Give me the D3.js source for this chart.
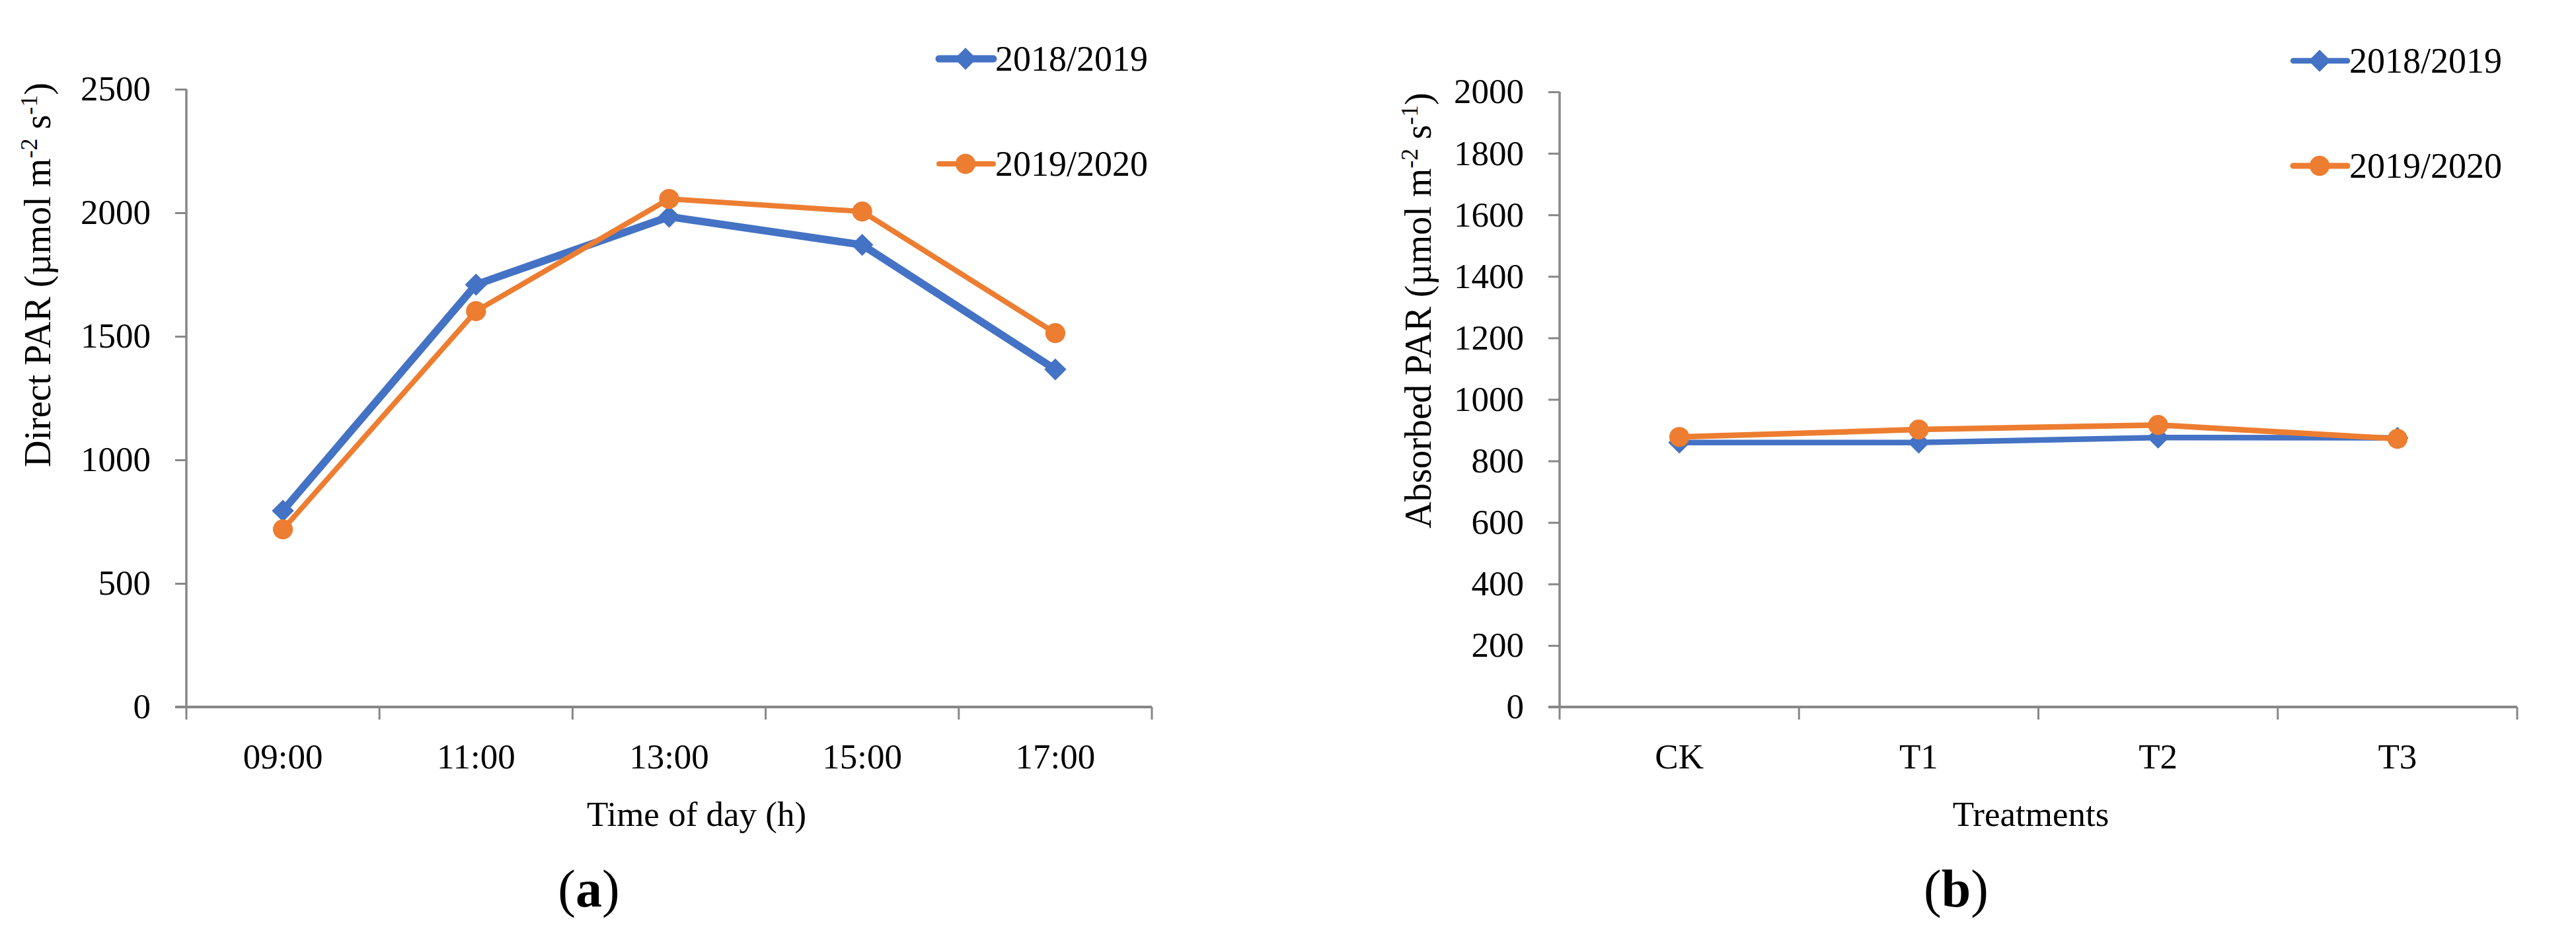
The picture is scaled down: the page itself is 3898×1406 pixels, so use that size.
<!DOCTYPE html>
<html>
<head>
<meta charset="utf-8">
<script src="https://d3js.org/d3.v7.min.js"></script>
<style>
  body { margin: 0; background: #fff; }
  text { font-family: "Liberation Serif", "Times New Roman", serif; fill: #000; }
</style>
</head>
<body>
<svg width="3898" height="1406"></svg>
<script>

// ---- data ----
var seriesNames = ["2018/2019", "2019/2020"];
var seriesColors = ["#4472C4", "#ED7D31"];

var timeLabels = ["09:00", "11:00", "13:00", "15:00", "17:00"];
var directPAR1819 = [794, 1709, 1984, 1870, 1366];
var directPAR1920 = [719, 1602, 2056, 2005, 1513];
var directTicks = [0, 500, 1000, 1500, 2000, 2500];

var treatments = ["CK", "T1", "T2", "T3"];
var absorbedPAR1819 = [860, 860, 876, 875];
var absorbedPAR1920 = [878, 902, 917, 872];
var absorbedTicks = [0, 200, 400, 600, 800, 1000, 1200, 1400, 1600, 1800, 2000];

var svg = d3.select("svg");
var axisColor = "#878787";

function drawPanel(p) {
  var g = svg.append("g");

  var x = d3.scaleBand()
      .domain(p.categories)
      .range([p.left, p.right])
      .padding(0);

  var y = d3.scaleLinear()
      .domain([0, p.yMax])
      .range([p.bottom, p.top]);

  // y axis: ticks + labels
  var yAxis = g.append("g")
      .attr("transform", "translate(" + p.left + ",0)")
      .call(d3.axisLeft(y).tickValues(p.yTicks).tickSize(17).tickPadding(37).tickFormat(d3.format("d")));
  yAxis.select(".domain").remove();
  yAxis.selectAll(".tick line").attr("stroke", axisColor).attr("stroke-width", 3);
  yAxis.selectAll(".tick text").attr("font-size", 53).attr("font-family", "Liberation Serif");

  // x axis labels (ticks drawn between categories below)
  var xAxis = g.append("g")
      .attr("transform", "translate(0," + p.bottom + ")")
      .call(d3.axisBottom(x).tickSize(0).tickPadding(55));
  xAxis.select(".domain").remove();
  xAxis.selectAll(".tick text").attr("font-size", 53).attr("font-family", "Liberation Serif");

  // category boundary ticks
  var bounds = p.categories.map(function(c) { return x(c); }).concat([x(p.categories[p.categories.length - 1]) + x.bandwidth()]);
  g.selectAll(".xtick")
    .data(bounds)
    .enter().append("line")
      .attr("x1", function(d) { return d; })
      .attr("x2", function(d) { return d; })
      .attr("y1", p.bottom)
      .attr("y2", p.bottom + 19)
      .attr("stroke", axisColor)
      .attr("stroke-width", 3);

  // axis lines
  g.append("line")
      .attr("x1", p.left).attr("x2", p.left)
      .attr("y1", y(p.yMax)).attr("y2", p.bottom)
      .attr("stroke", axisColor).attr("stroke-width", 3.5);
  g.append("line")
      .attr("x1", p.left - 17).attr("x2", p.right)
      .attr("y1", p.bottom).attr("y2", p.bottom)
      .attr("stroke", axisColor).attr("stroke-width", 4);

  // series
  var line = d3.line()
      .x(function(d, i) { return x(p.categories[i]) + x.bandwidth() / 2; })
      .y(function(d) { return y(d); });

  p.series.forEach(function(vals, si) {
    g.append("path")
        .datum(vals)
        .attr("fill", "none")
        .attr("stroke", seriesColors[si])
        .attr("stroke-width", p.lineWidths[si])
        .attr("stroke-linejoin", "round")
        .attr("stroke-linecap", "round")
        .attr("d", line);

    g.selectAll(".mk" + si)
      .data(vals)
      .enter().append("path")
        .attr("class", "mk" + si)
        .attr("fill", seriesColors[si])
        .attr("d", si === 0 ? d3.symbol(d3.symbolSquare, 560)() : d3.symbol(d3.symbolCircle, 720)())
        .attr("transform", function(d, i) {
          var t = "translate(" + (x(p.categories[i]) + x.bandwidth() / 2) + "," + y(d) + ")";
          return si === 0 ? t + " rotate(45)" : t;
        });
  });

  // legend
  seriesNames.forEach(function(name, si) {
    var ly = p.legendY[si];
    var lg = g.append("g").attr("transform", "translate(" + p.legendX + "," + ly + ")");
    lg.append("line")
        .attr("x1", -40).attr("x2", 42)
        .attr("y1", 0).attr("y2", 0)
        .attr("stroke", seriesColors[si])
        .attr("stroke-width", p.legendLineWidths[si])
        .attr("stroke-linecap", "round");
    lg.append("path")
        .attr("fill", seriesColors[si])
        .attr("d", si === 0 ? d3.symbol(d3.symbolSquare, 560)() : d3.symbol(d3.symbolCircle, 720)())
        .attr("transform", si === 0 ? "rotate(45)" : null);
    lg.append("text")
        .attr("x", 45)
        .attr("y", 18)
        .attr("font-size", 54)
        .text(name);
  });

  // y title with superscripts
  var yt = g.append("text")
      .attr("transform", "translate(" + p.yTitleX + "," + p.yTitleY + ") rotate(-90)")
      .attr("text-anchor", "middle")
      .attr("font-size", 56);
  yt.append("tspan").text(p.yTitle + " (µmol m");
  yt.append("tspan").attr("dy", -20).attr("font-size", 36).text("-2");
  yt.append("tspan").attr("dy", 20).text(" s");
  yt.append("tspan").attr("dy", -20).attr("font-size", 36).text("-1");
  yt.append("tspan").attr("dy", 20).text(")");

  // x title
  g.append("text")
      .attr("x", p.xTitleX)
      .attr("y", 1250)
      .attr("text-anchor", "middle")
      .attr("font-size", 53)
      .text(p.xTitle);

  // panel caption
  var cap = g.append("text")
      .attr("x", p.capX)
      .attr("y", 1372)
      .attr("text-anchor", "middle")
      .attr("font-size", 80);
  cap.append("tspan").text("(");
  cap.append("tspan").attr("font-weight", "bold").text(p.capLetter);
  cap.append("tspan").text(")");
}

drawPanel({
  categories: timeLabels,
  series: [directPAR1819, directPAR1920],
  yMax: 2500, yTicks: directTicks,
  left: 282, right: 1743, top: 135, bottom: 1070,
  lineWidths: [11.5, 8],
  legendX: 1461, legendY: [89, 248], legendLineWidths: [11, 8],
  yTitle: "Direct PAR", yTitleX: 76, yTitleY: 416,
  xTitle: "Time of day (h)", xTitleX: 1054,
  capX: 891, capLetter: "a"
});

drawPanel({
  categories: treatments,
  series: [absorbedPAR1819, absorbedPAR1920],
  yMax: 2000, yTicks: absorbedTicks,
  left: 2360, right: 3809, top: 139, bottom: 1070,
  lineWidths: [8.5, 8.5],
  legendX: 3510, legendY: [92, 251], legendLineWidths: [8.5, 9],
  yTitle: "Absorbed PAR", yTitleX: 2165, yTitleY: 470,
  xTitle: "Treatments", xTitleX: 3073,
  capX: 2960, capLetter: "b"
});

</script>
</body>
</html>
